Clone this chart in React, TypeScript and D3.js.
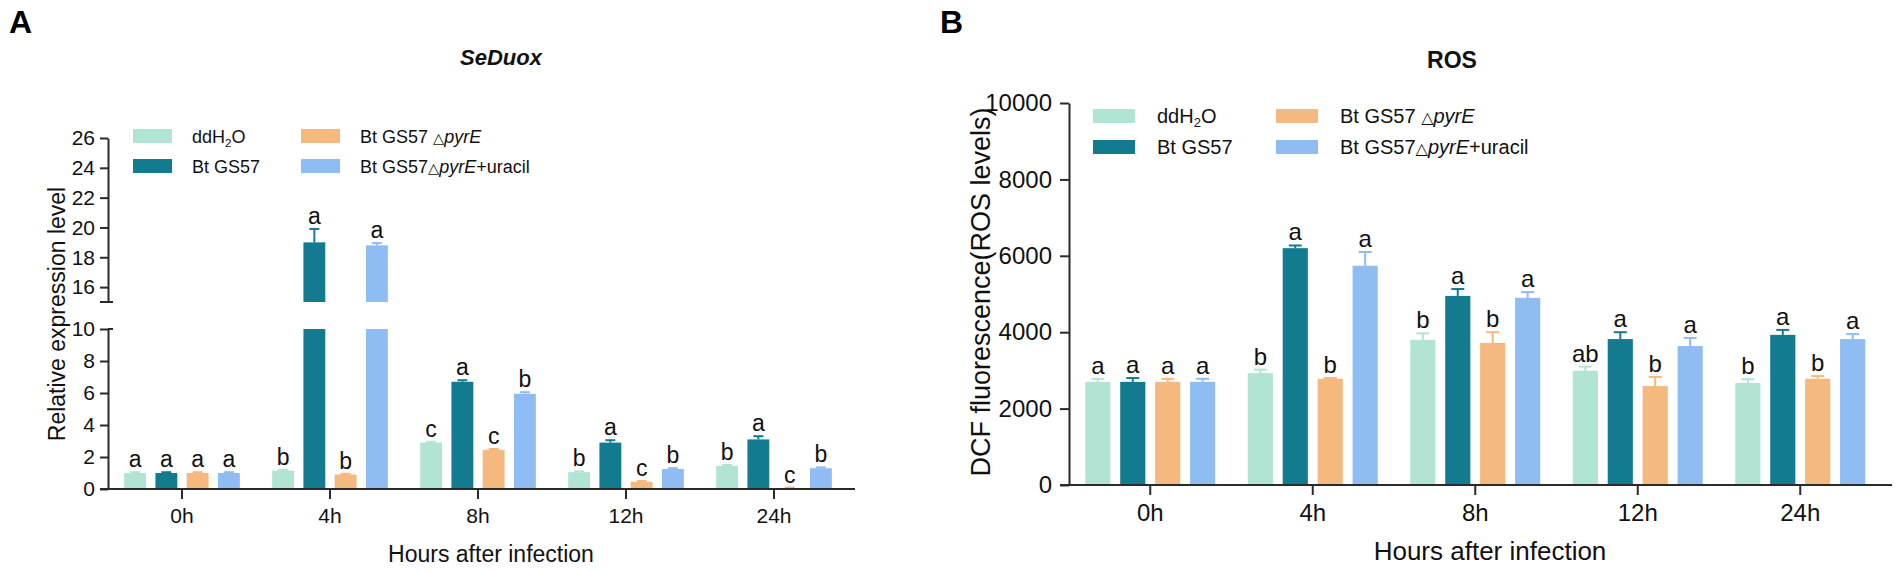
import * as React from 'react';
import * as d3 from 'd3';
import {useEffect, useRef} from 'react';

const hours = ['0h', '4h', '8h', '12h', '24h'];
const treatments = ['ddH2O', 'Bt GS57', 'Bt GS57 \u25B3pyrE', 'Bt GS57\u25B3pyrE+uracil'];
const barColors = ['#b2e4d3', '#137b8f', '#f5b87e', '#8fbcf3'];

// SeDuox relative expression: one row per treatment, one value per time point
const duoxMean = [
    [1.0, 1.15, 2.9, 1.05, 1.45],
    [1.0, 19.0, 6.7, 2.9, 3.1],
    [1.0, 0.9, 2.45, 0.45, 0.06],
    [1.0, 18.8, 5.95, 1.25, 1.3],
];
const duoxErr = [
    [0.05, 0.05, 0.05, 0.05, 0.05],
    [0.05, 0.9, 0.1, 0.15, 0.2],
    [0.05, 0.05, 0.05, 0.05, 0.03],
    [0.05, 0.15, 0.1, 0.05, 0.05],
];
const duoxLetters = [
    ['a', 'b', 'c', 'b', 'b'],
    ['a', 'a', 'a', 'a', 'a'],
    ['a', 'b', 'c', 'c', 'c'],
    ['a', 'a', 'b', 'b', 'b'],
];
const duoxLowTicks = [0, 2, 4, 6, 8, 10];
const duoxHighTicks = [16, 18, 20, 22, 24, 26];

// ROS (DCF fluorescence)
const rosMean = [
    [2700, 2930, 3800, 2990, 2670],
    [2700, 6200, 4950, 3820, 3930],
    [2700, 2780, 3720, 2590, 2780],
    [2700, 5740, 4900, 3640, 3820],
];
const rosErr = [
    [80, 90, 170, 110, 100],
    [100, 70, 180, 180, 130],
    [80, 20, 280, 240, 70],
    [80, 360, 150, 210, 130],
];
const rosLetters = [
    ['a', 'b', 'b', 'ab', 'b'],
    ['a', 'a', 'a', 'a', 'a'],
    ['a', 'b', 'b', 'b', 'b'],
    ['a', 'a', 'a', 'a', 'a'],
];
const rosTicks = [0, 2000, 4000, 6000, 8000, 10000];

const FONT = '"Liberation Sans", Arial, Helvetica, sans-serif';
const AXIS = '#2a2a2a';
const TEXT = '#111';

function toItems(mean: number[][], err: number[][], letters: string[][]) {
    return hours.flatMap((h, hi) => treatments.map((t, ti) => ({
        h, t, ti, v: mean[ti][hi], e: err[ti][hi], l: letters[ti][hi],
    })));
}

function styleAxis(g: any, fontSize: number) {
    g.attr('font-family', FONT).attr('font-size', fontSize).attr('color', AXIS);
    g.selectAll('line, path').attr('stroke-width', 2);
    g.selectAll('text').attr('fill', TEXT);
}

function appendLabel(text: any, name: string, fontSize: number) {
    // ddH2O gets a subscript, pyrE is italic, the triangle is a little smaller
    if (name === 'ddH2O') {
        text.append('tspan').text('ddH');
        text.append('tspan').text('2').attr('font-size', fontSize * 0.65).attr('dy', 4);
        text.append('tspan').text('O').attr('dy', -4);
        return;
    }
    const parts = name.split(/(\u25B3|pyrE)/).filter((p) => p.length > 0);
    parts.forEach((p) => {
        const ts = text.append('tspan').text(p);
        if (p === 'pyrE') ts.attr('font-style', 'italic');
        if (p === '\u25B3') ts.attr('font-size', fontSize * 0.8).attr('font-family', 'DejaVu Sans');
    });
}

function drawLegend(svg: any, cols: number[], rows: number[], sw: number, sh: number, textDx: number, fontSize: number) {
    const lg = svg.append('g').attr('font-family', FONT).attr('font-size', fontSize).attr('fill', TEXT);
    treatments.forEach((name, i) => {
        const x = cols[Math.floor(i / 2)];
        const y = rows[i % 2];
        lg.append('rect').attr('x', x).attr('y', y).attr('width', sw).attr('height', sh).attr('fill', barColors[i]);
        const t = lg.append('text').attr('x', x + textDx).attr('y', y + sh);
        appendLabel(t, name, fontSize);
    });
}

function drawBars(svg: any, data: any[], x0: any, x1: any, segments: (v: number) => number[][],
                  pos: (v: number) => number, capW: number, letterSize: number) {
    const bw = x1.bandwidth();
    const g = svg.append('g');
    g.selectAll('g.bar').data(data).enter().append('g')
        .attr('class', 'bar')
        .attr('transform', (d: any) => `translate(${x0(d.h) + x1(d.t)},0)`)
        .each(function (this: any, d: any) {
            const sel = d3.select(this);
            const color = barColors[d.ti];
            segments(d.v).forEach(([top, bottom]) => {
                sel.append('rect').attr('x', 0).attr('y', top).attr('width', bw)
                    .attr('height', Math.max(0, bottom - top)).attr('fill', color);
            });
            const yv = pos(d.v);
            const ye = pos(d.v + d.e);
            sel.append('line').attr('x1', bw / 2).attr('x2', bw / 2).attr('y1', yv).attr('y2', ye)
                .attr('stroke', color).attr('stroke-width', 2);
            sel.append('line').attr('x1', bw / 2 - capW / 2).attr('x2', bw / 2 + capW / 2).attr('y1', ye).attr('y2', ye)
                .attr('stroke', color).attr('stroke-width', 2);
            sel.append('text').attr('x', bw / 2).attr('y', ye - 5).attr('text-anchor', 'middle')
                .attr('font-family', FONT).attr('font-size', letterSize).attr('fill', TEXT).text(d.l);
        });
}

function drawXAxis(svg: any, x0: any, y: number, lineFrom: number, lineTo: number, fontSize: number) {
    const g = svg.append('g').attr('transform', `translate(0,${y})`)
        .call(d3.axisBottom(x0).tickSize(10).tickPadding(9).tickSizeOuter(0));
    g.select('.domain').remove();
    styleAxis(g, fontSize);
    svg.append('line').attr('x1', lineFrom).attr('x2', lineTo).attr('y1', y).attr('y2', y)
        .attr('stroke', AXIS).attr('stroke-width', 2);
}

function drawPanelA(svg: any) {
    const axisX = 108;
    const x0 = d3.scaleBand().domain(hours).range([axisX, axisX + 5 * 148]).paddingInner(0.155).paddingOuter(0.0775);
    const x1 = d3.scaleBand().domain(treatments).range([0, x0.bandwidth()]).paddingInner(0.3).paddingOuter(0.15);
    const yLow = d3.scaleLinear().domain([0, 10]).range([489, 329]);
    const yHigh = d3.scaleLinear().domain([15, 26]).range([302, 138]);

    const low = svg.append('g').attr('transform', `translate(${axisX},0)`)
        .call(d3.axisLeft(yLow).tickValues(duoxLowTicks).tickSize(8).tickPadding(5).tickSizeOuter(0));
    styleAxis(low, 21);
    const high = svg.append('g').attr('transform', `translate(${axisX},0)`)
        .call(d3.axisLeft(yHigh).tickValues(duoxHighTicks).tickSize(8).tickPadding(5).tickSizeOuter(0));
    styleAxis(high, 21);
    // little caps at both ends of the break
    svg.append('line').attr('x1', axisX - 8).attr('x2', axisX + 5).attr('y1', yHigh(15)).attr('y2', yHigh(15))
        .attr('stroke', AXIS).attr('stroke-width', 2);
    svg.append('line').attr('x1', axisX).attr('x2', axisX + 5).attr('y1', yLow(10)).attr('y2', yLow(10))
        .attr('stroke', AXIS).attr('stroke-width', 2);

    const segments = (v: number) => v > 10
        ? [[yLow(10), yLow(0)], [yHigh(v), yHigh(15)]]
        : [[yLow(v), yLow(0)]];
    const pos = (v: number) => (v > 10 ? yHigh(v) : yLow(v));
    drawBars(svg, toItems(duoxMean, duoxErr, duoxLetters), x0, x1, segments, pos, 10, 23);
    drawXAxis(svg, x0, yLow(0), 100, 855, 21);

    svg.append('text').attr('transform', 'translate(65,314) rotate(-90)').attr('text-anchor', 'middle')
        .attr('font-family', FONT).attr('font-size', 23).attr('fill', TEXT).text('Relative expression level');
    svg.append('text').attr('x', 491).attr('y', 562).attr('text-anchor', 'middle')
        .attr('font-family', FONT).attr('font-size', 23).attr('fill', TEXT).text('Hours after infection');
    svg.append('text').attr('x', 501).attr('y', 65).attr('text-anchor', 'middle')
        .attr('font-family', FONT).attr('font-size', 22).attr('font-weight', 'bold').attr('font-style', 'italic')
        .attr('fill', TEXT).text('SeDuox');
    svg.append('text').attr('x', 9).attr('y', 33).attr('font-family', FONT).attr('font-size', 32)
        .attr('font-weight', 'bold').attr('fill', '#000').text('A');

    drawLegend(svg, [133, 301], [129, 159], 39, 14, 59, 18);
}

function drawPanelB(svg: any) {
    const axisX = 1069;
    const x0 = d3.scaleBand().domain(hours).range([axisX, axisX + 5 * 162.5]).paddingInner(0.14).paddingOuter(0.07);
    const x1 = d3.scaleBand().domain(treatments).range([0, x0.bandwidth()]).paddingInner(0.28).paddingOuter(0.14);
    const y = d3.scaleLinear().domain([0, 10000]).range([485, 103]);

    const yAxis = svg.append('g').attr('transform', `translate(${axisX},0)`)
        .call(d3.axisLeft(y).tickValues(rosTicks).tickFormat(d3.format('d')).tickSize(9).tickPadding(8).tickSizeOuter(0));
    styleAxis(yAxis, 24);

    drawBars(svg, toItems(rosMean, rosErr, rosLetters), x0, x1, (v) => [[y(v), y(0)]], (v) => y(v), 13, 24);
    drawXAxis(svg, x0, y(0), 1060, 1892, 24);

    svg.append('text').attr('transform', 'translate(990,292) rotate(-90)').attr('text-anchor', 'middle')
        .attr('font-family', FONT).attr('font-size', 27).attr('fill', TEXT).text('DCF fluorescence(ROS levels)');
    svg.append('text').attr('x', 1490).attr('y', 560).attr('text-anchor', 'middle')
        .attr('font-family', FONT).attr('font-size', 26).attr('fill', TEXT).text('Hours after infection');
    svg.append('text').attr('x', 1452).attr('y', 68).attr('text-anchor', 'middle')
        .attr('font-family', FONT).attr('font-size', 23).attr('font-weight', 'bold')
        .attr('fill', TEXT).text('ROS');
    svg.append('text').attr('x', 940).attr('y', 33).attr('font-family', FONT).attr('font-size', 32)
        .attr('font-weight', 'bold').attr('fill', '#000').text('B');

    drawLegend(svg, [1093, 1276], [109, 140], 42, 14, 64, 20);
}

export default function App() {
    const svgRef = useRef<SVGSVGElement>(null);

    useEffect(() => {
        const svg = d3.select(svgRef.current);
        svg.selectAll('*').remove();
        drawPanelA(svg);
        drawPanelB(svg);
    }, []);

    return (
        <svg ref={svgRef} width={1901} height={573} viewBox="0 0 1901 573"
             style={{position: 'absolute', left: 0, top: 0, background: '#fff'}}/>
    );
}
